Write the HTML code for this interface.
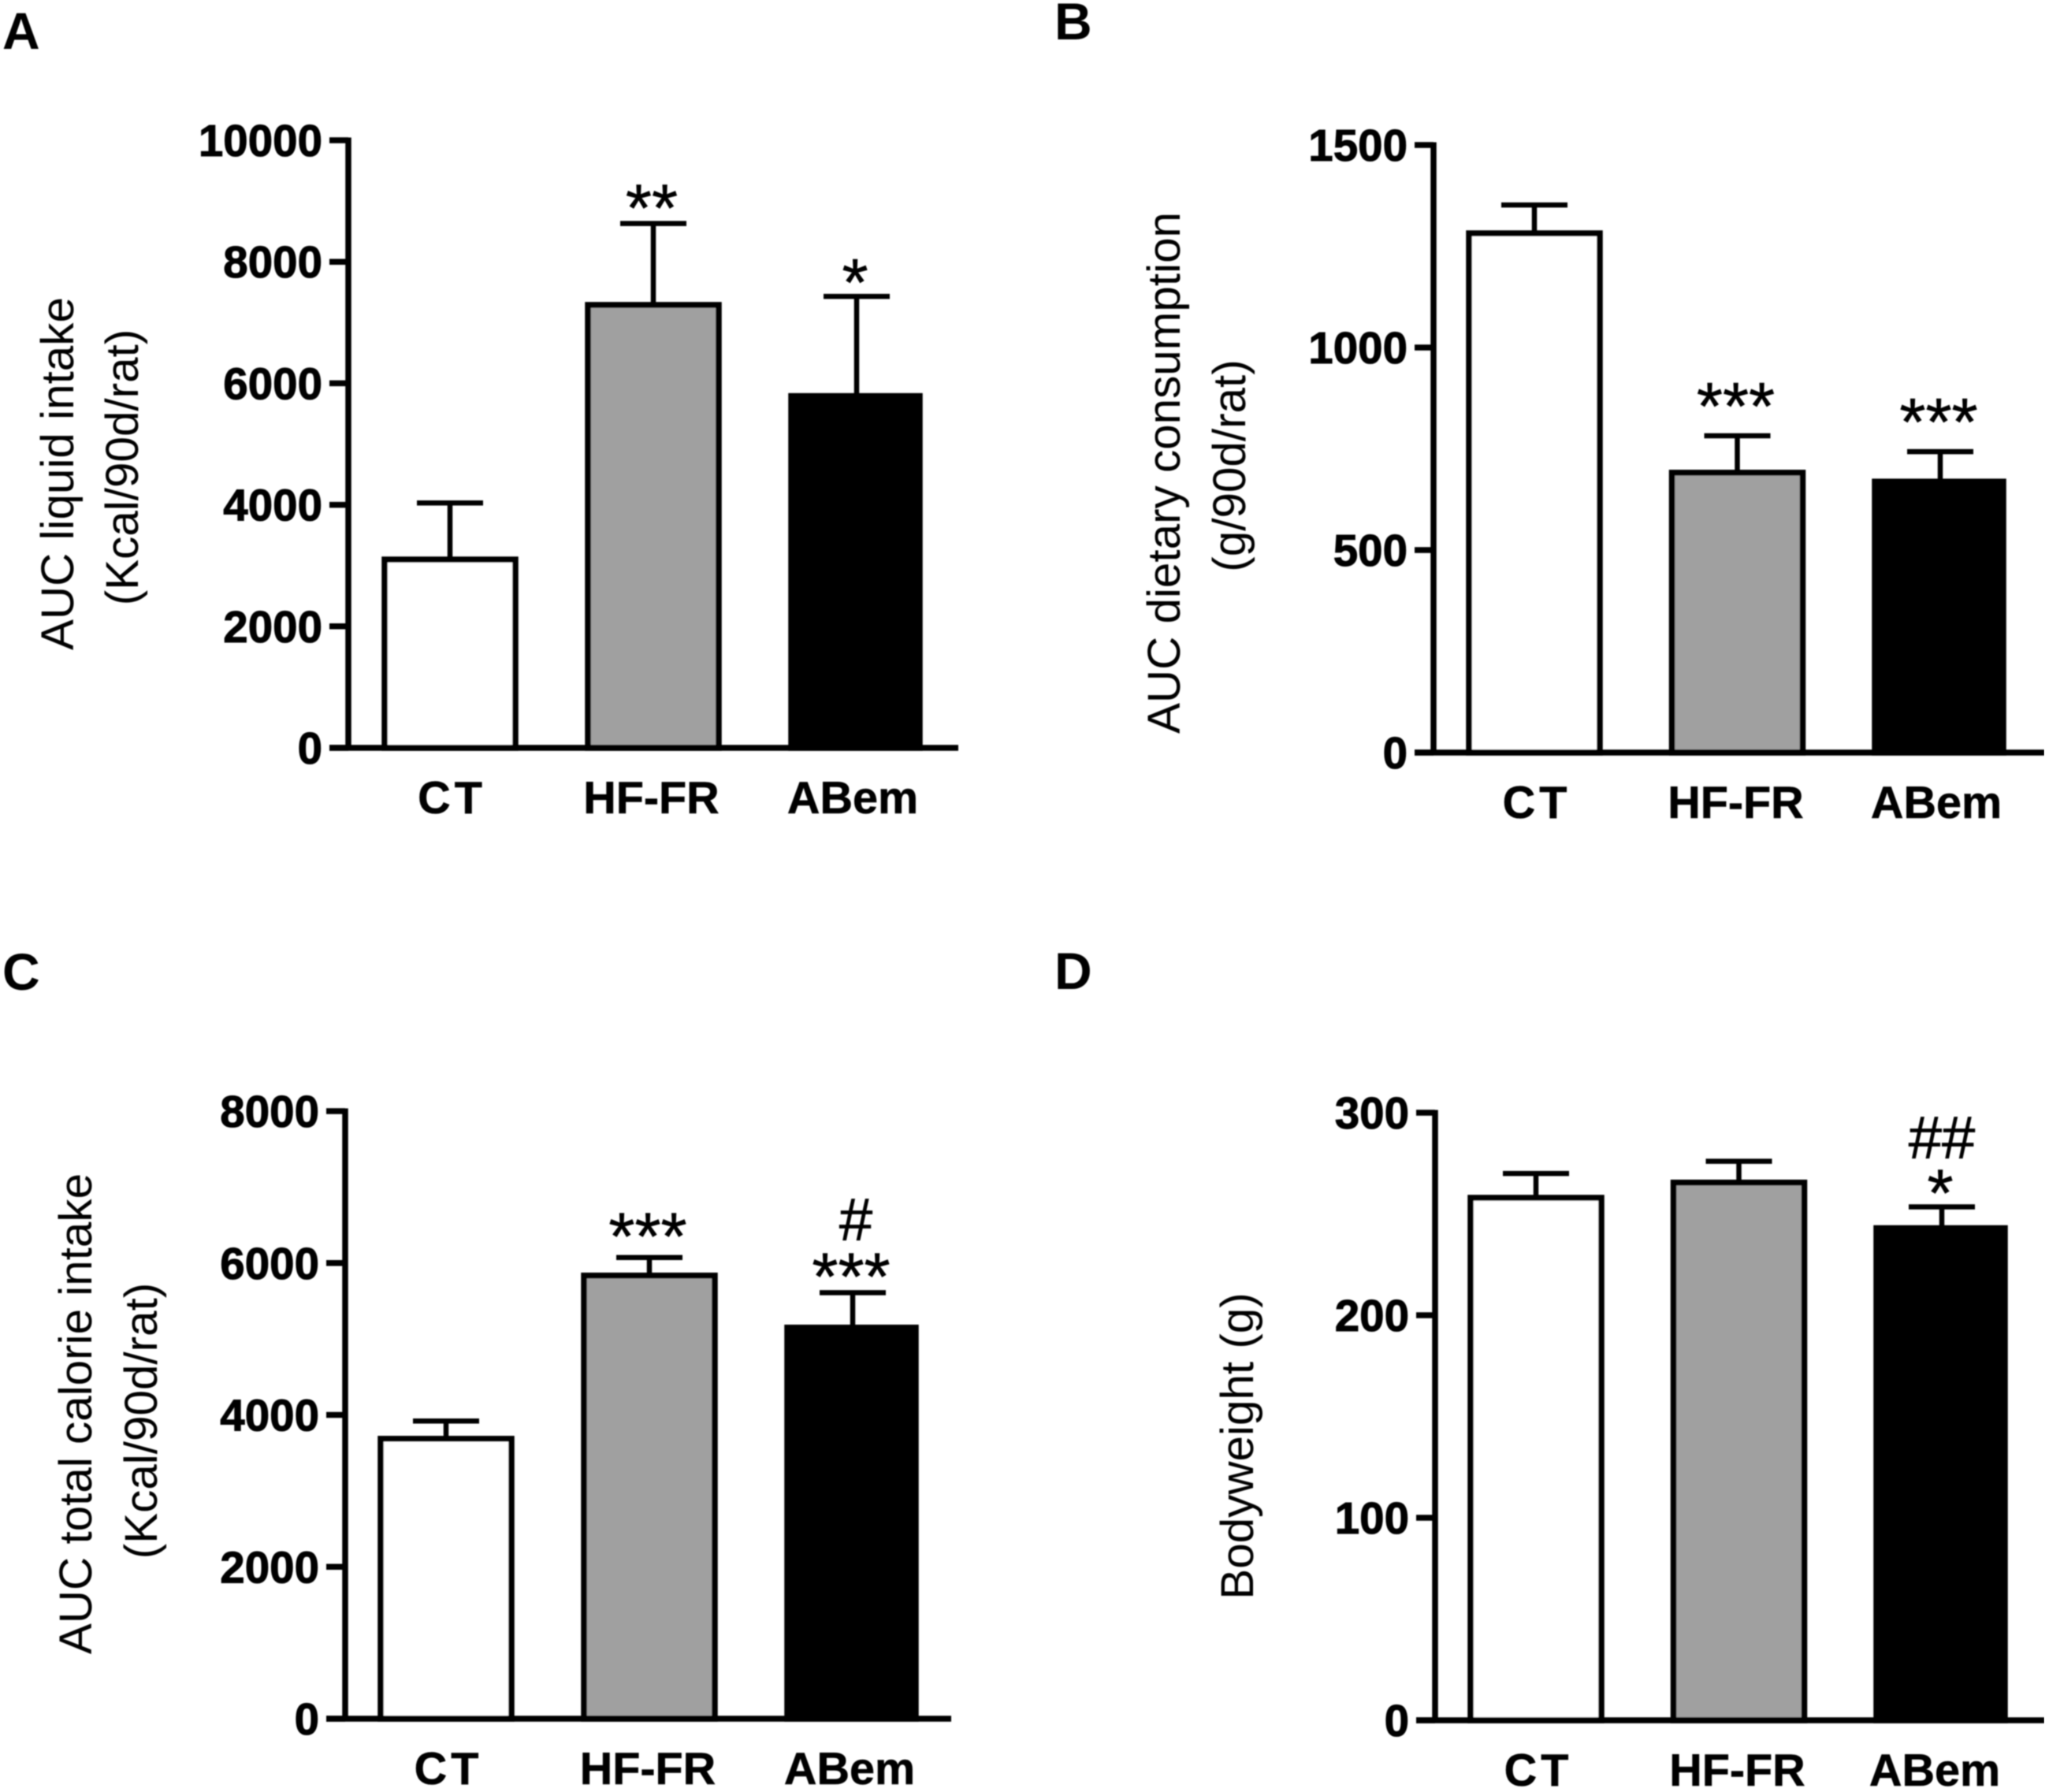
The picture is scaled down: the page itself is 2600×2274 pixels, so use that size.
<!DOCTYPE html>
<html lang="en">
<head>
<meta charset="utf-8">
<title>AUC intake and bodyweight bar charts</title>
<style>
html,body{margin:0;padding:0;background:#fff;width:2600px;height:2274px;overflow:hidden}
svg{display:block;position:absolute;left:0;top:0}
text{font-family:"Liberation Sans",sans-serif;fill:#000}
.tick{font-weight:700;font-size:56.5px;text-anchor:end;stroke:#000;stroke-width:1}
.cat{font-weight:700;font-size:57.5px;text-anchor:middle;stroke:#000;stroke-width:.6}
.title{font-size:58.4px;text-anchor:middle}
.letter{font-weight:700;font-size:66px}
.star{font-size:85px;text-anchor:middle;stroke:#000;stroke-width:.6}
.hash{font-size:76px;text-anchor:middle;stroke:#000;stroke-width:.7}
</style>
</head>
<body>
<svg id="figure" xmlns="http://www.w3.org/2000/svg" width="2600" height="2274" viewBox="0 0 2600 2274">
<defs><filter id="soft" x="0" y="0" width="100%" height="100%"><feGaussianBlur stdDeviation="0.9"/></filter></defs>
<rect width="2600" height="2274" fill="#fff"/>
<g id="root" filter="url(#soft)"></g>
</svg>
<script>
const categories = ['CT', 'HF-FR', 'ABem'];

const meansA = [3100, 7290, 5790];
const errorsA = [930, 1340, 1640];
const ticksA = [0, 2000, 4000, 6000, 8000, 10000];
const marksA = ['', '**', '*'];
const hashesA = ['', '', ''];

const meansB = [1282, 691, 669];
const errorsB = [70, 91, 74];
const ticksB = [0, 500, 1000, 1500];
const marksB = ['', '***', '***'];
const hashesB = ['', '', ''];

const meansC = [3686, 5835, 5150];
const errorsC = [234, 238, 460];
const ticksC = [0, 2000, 4000, 6000, 8000];
const marksC = ['', '***', '***'];
const hashesC = ['', '', '#'];

const meansD = [258, 265.5, 243];
const errorsD = [12, 10.5, 10.5];
const ticksD = [0, 100, 200, 300];
const marksD = ['', '', '*'];
const hashesD = ['', '', '##'];

const barFills = ['#ffffff', '#a0a0a0', '#000000'];
const NS = 'http://www.w3.org/2000/svg';
const root = document.getElementById('root');

function make(tag, parent, attrs, text) {
  const node = document.createElementNS(NS, tag);
  for (const key in attrs) node.setAttribute(key, attrs[key]);
  if (text !== undefined) node.textContent = text;
  parent.appendChild(node);
  return node;
}

function drawPanel(cfg) {
  const y = v => cfg.y0 - (v / cfg.max) * (cfg.y0 - cfg.yTop);
  const x = i => cfg.firstX + i * cfg.step;
  const g = make('g', root, {});
  
  

  const letter = make('text', g, { class: 'letter', x: cfg.letterX, y: cfg.letterY }, cfg.id);
  
  

  cfg.titles.forEach((t, n) => {
    const title = make('text', g, {
      class: 'title',
      transform: 'translate(' + t.x + ',' + t.y + ') rotate(-90)'
    }, t.text);
    
    
  });

  cfg.means.forEach((m, i) => {
    const cx = x(i);
    const top = y(m);
    const errTop = y(m + cfg.errors[i]);

    const stem = make('line', g, { x1: cx, x2: cx, y1: top, y2: errTop, stroke: '#000', 'stroke-width': 6.5 });
    
    

    const cap = make('line', g, { x1: cx - 42, x2: cx + 42, y1: errTop, y2: errTop, stroke: '#000', 'stroke-width': 6.5 });
    
    

    const bar = make('rect', g, {
      x: cx - 83, y: top, width: i === 2 ? 163 : 166, height: cfg.y0 - top,
      fill: barFills[i], stroke: '#000', 'stroke-width': 7.5
    });
    
    

    const cat = make('text', g, { class: 'cat', x: cx + cfg.catShift[i], y: cfg.y0 + 83 }, categories[i]);
    if (i === 0) cat.setAttribute('letter-spacing', '5');
    
    

    if (cfg.marks[i]) {
      const star = make('text', g, { class: 'star', x: cx - 2, y: errTop + cfg.starGap[i] }, cfg.marks[i]);
      
      
    }
    if (cfg.hashes[i]) {
      const hash = make('text', g, { class: 'hash', x: cx + cfg.hashShift, y: errTop + cfg.hashGap }, cfg.hashes[i]);
      
      
    }
  });

  const yAxis = make('line', g, { x1: cfg.axisX, x2: cfg.axisX, y1: cfg.yTop - 3.5, y2: cfg.y0 + 3.5, stroke: '#000', 'stroke-width': 7.5 });
  
  

  const xAxis = make('line', g, { x1: cfg.axisX - 24, x2: cfg.xEnd, y1: cfg.y0, y2: cfg.y0, stroke: '#000', 'stroke-width': 7.5 });
  
  

  cfg.ticks.forEach(v => {
    const tick = make('line', g, { x1: cfg.axisX - 24, x2: cfg.axisX, y1: y(v), y2: y(v), stroke: '#000', 'stroke-width': 7.5 });
    
    

    const label = make('text', g, { class: 'tick', x: cfg.axisX - 33, y: y(v) + 20 }, String(v));
    
    
  });
}

drawPanel({
  id: 'A', means: meansA, errors: errorsA, ticks: ticksA, marks: marksA, hashes: hashesA,
  max: 10000, axisX: 442, xEnd: 1216, y0: 949, yTop: 178, firstX: 571, step: 258,
  letterX: 3, letterY: 62, catShift: [2.5, -2.5, -5], starGap: [0, 10, 12], hashGap: 0, hashShift: 0,
  titles: [{ text: 'AUC liquid intake', x: 93, y: 601 }, { text: '(Kcal/90d/rat)', x: 175, y: 593 }]
});
drawPanel({
  id: 'B', means: meansB, errors: errorsB, ticks: ticksB, marks: marksB, hashes: hashesB,
  max: 1500, axisX: 1819, xEnd: 2594, y0: 955, yTop: 184, firstX: 1947, step: 257.5,
  letterX: 1338, letterY: 50, catShift: [3, -2, -5], starGap: [0, -8, -8], hashGap: 0, hashShift: 0,
  titles: [{ text: 'AUC dietary consumption', x: 1497, y: 600 }, { text: '(g/90d/rat)', x: 1580, y: 591 }]
});
drawPanel({
  id: 'C', means: meansC, errors: errorsC, ticks: ticksC, marks: marksC, hashes: hashesC,
  max: 8000, axisX: 438, xEnd: 1207, y0: 2181, yTop: 1410, firstX: 566, step: 258,
  letterX: 3, letterY: 1256, catShift: [3, -2, -4], starGap: [0, 3, 9], hashGap: -67, hashShift: 4,
  titles: [{ text: 'AUC total calorie intake', x: 116, y: 1794 }, { text: '(Kcal/90d/rat)', x: 199, y: 1803 }]
});
drawPanel({
  id: 'D', means: meansD, errors: errorsD, ticks: ticksD, marks: marksD, hashes: hashesD,
  max: 300, axisX: 1821, xEnd: 2594, y0: 2183, yTop: 1412, firstX: 1949, step: 257.5,
  letterX: 1338, letterY: 1255, catShift: [3, -2, -9], starGap: [0, 0, 12], hashGap: -62, hashShift: 0,
  titles: [{ text: 'Bodyweight (g)', x: 1590, y: 1835 }]
});
</script>
</body>
</html>
